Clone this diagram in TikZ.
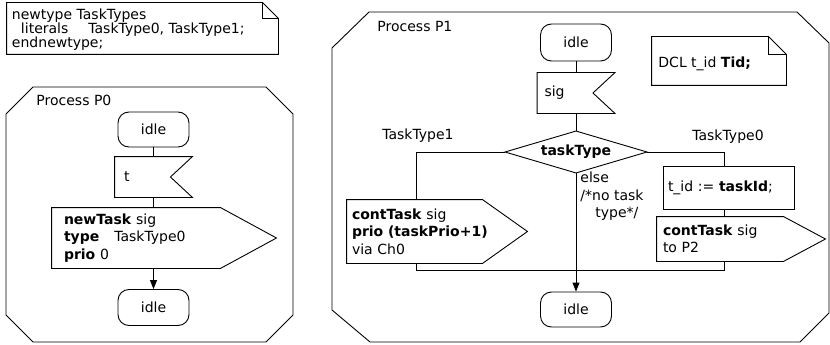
\documentclass[tikz,border=0pt]{standalone}
\usepackage{fontspec}
\setmainfont{DejaVu Sans}
\usetikzlibrary{calc,arrows.meta}
\begin{document}
\begin{tikzpicture}[x=1pt,y=-1pt,line width=0.9pt,
  every node/.style={font=\fontsize{14}{17.5}\selectfont, inner sep=0pt},
  statebox/.style={draw, rounded corners=11pt, minimum width=71pt},
  tbox/.style={align=left},
  arr/.style={-{Triangle[length=9pt,width=7pt]}}]
\useasboundingbox (0,0) rectangle (830,345);

% ---------- type note ----------
\node[minimum width=271pt, minimum height=51pt] (nb) at (142.5,28.5) {};
\draw (nb.north west) -- ($(nb.north east)+(-16,0)$) -- ($(nb.north east)+(0,16)$)
      -- (nb.south east) -- (nb.south west) -- cycle;
\draw ($(nb.north east)+(-16,0)$) -- ($(nb.north east)+(-16,16)$) -- ($(nb.north east)+(0,16)$);
\node[anchor=north west, align=left, font=\fontsize{14}{14}\selectfont] (ntxt) at ($(nb.north west)+(5,5.5)$)
  {newtype TaskTypes\\\hspace*{9pt}literals\hspace{20pt}TaskType0, TaskType1;\\endnewtype;};

% ---------- Process P0 ----------
\draw (6,114) -- (33,87) -- (266,87) -- (293,114) -- (293,315) -- (266,342) -- (33,342) -- (6,315) -- cycle;
\node[anchor=base west] (p0lbl) at (36,105) {Process P0};

\node[statebox, minimum height=35pt] (i0) at (153.5,129.5) {idle};
\node[tbox, text width=59pt, inner xsep=9pt, minimum height=40pt] (t0) at (153.5,177) {t};
\draw (t0.north west) -- (t0.north east) -- ($(t0.east)+(-22,0)$) -- (t0.south east) -- (t0.south west) -- cycle;
\node[tbox, text width=200pt, inner xsep=12pt, minimum height=60pt] (n0) at (164,238)
  {\textbf{newTask} sig\\\textbf{type}\hspace{15pt}TaskType0\\\textbf{prio} 0};
\draw (n0.north west) -- ($(n0.north east)+(-56,0)$) -- (n0.east) -- ($(n0.south east)+(-56,0)$) -- (n0.south west) -- cycle;
\node[statebox, minimum height=36pt] (i0b) at (153.5,307.5) {idle};

\draw (i0.south) -- (t0.north -| i0.south);
\draw (t0.south -| i0.south) -- (n0.north -| i0.south);
\draw[arr] (n0.south -| i0b.north) -- (i0b.north);

% ---------- Process P1 ----------
\draw (332,48) -- (369,12) -- (797,12) -- (829,43) -- (829,313) -- (800,342) -- (370,342) -- (332,310) -- cycle;
\node[anchor=base west] (p1lbl) at (377,32) {Process P1};

% DCL note
\node[minimum width=134pt, minimum height=48pt] (db) at (719,61) {};
\draw (db.north west) -- ($(db.north east)+(-18,0)$) -- ($(db.north east)+(0,18)$)
      -- (db.south east) -- (db.south west) -- cycle;
\draw ($(db.north east)+(-18,0)$) -- ($(db.north east)+(-18,18)$) -- ($(db.north east)+(0,18)$);
\node[anchor=base west] (dtxt) at (658,67) {DCL t\_id \textbf{Tid;}};

\node[statebox, minimum height=37pt] (i1) at (576,42.5) {idle};
\node[tbox, text width=63pt, inner xsep=7pt, minimum height=40pt] (s1) at (576,93) {sig};
\draw (s1.north west) -- (s1.north east) -- ($(s1.east)+(-22,0)$) -- (s1.south east) -- (s1.south west) -- cycle;

\node[minimum width=141pt, minimum height=41pt, font=\fontsize{14}{17.5}\selectfont\bfseries] (d1) at (576,152) {taskType};
\draw (d1.north) -- (d1.east) -- (d1.south) -- (d1.west) -- cycle;

\node[tbox, text width=170pt, inner xsep=5pt, minimum height=63pt] (c1) at (437,231.5)
  {\textbf{contTask} sig\\\textbf{prio (taskPrio+1)}\\via Ch0};
\draw (c1.north west) -- ($(c1.north east)+(-45,0)$) -- (c1.east) -- ($(c1.south east)+(-45,0)$) -- (c1.south west) -- cycle;

\node[tbox, draw, text width=121pt, inner xsep=5pt, minimum height=43pt] (tid) at (728.5,187.5)
  {t\_id := \textbf{taskId};};
\node[tbox, text width=156pt, inner xsep=6pt, minimum height=44pt] (c2) at (741,239)
  {\textbf{contTask} sig\\to P2};
\draw (c2.north west) -- ($(c2.north east)+(-42,0)$) -- (c2.east) -- ($(c2.south east)+(-42,0)$) -- (c2.south west) -- cycle;

\node[statebox, minimum height=35pt] (i2) at (576,309.5) {idle};

\coordinate (lb) at (416,0);
\coordinate (rb) at (724,0);
\coordinate (mg) at (0,270);

\node (tt1) at (418,136) {TaskType1};
\node (tt0) at (728,137) {TaskType0};
\node[anchor=north west, align=left] (els) at (580,171.5) {else\\/*no task\\\hspace*{15pt}type*/};

\draw (i1.south) -- (s1.north);
\draw (s1.south) -- (d1.north);
\draw (d1.west) -| (lb |- c1.north);
\draw (d1.east) -| (rb |- tid.north);
\draw (rb |- tid.south) -- (rb |- c2.north);
\draw (lb |- c1.south) -- (lb |- mg) -- (rb |- mg) -- (rb |- c2.south);
\draw[arr] (d1.south) -- (i2.north);
\end{tikzpicture}
\end{document}
